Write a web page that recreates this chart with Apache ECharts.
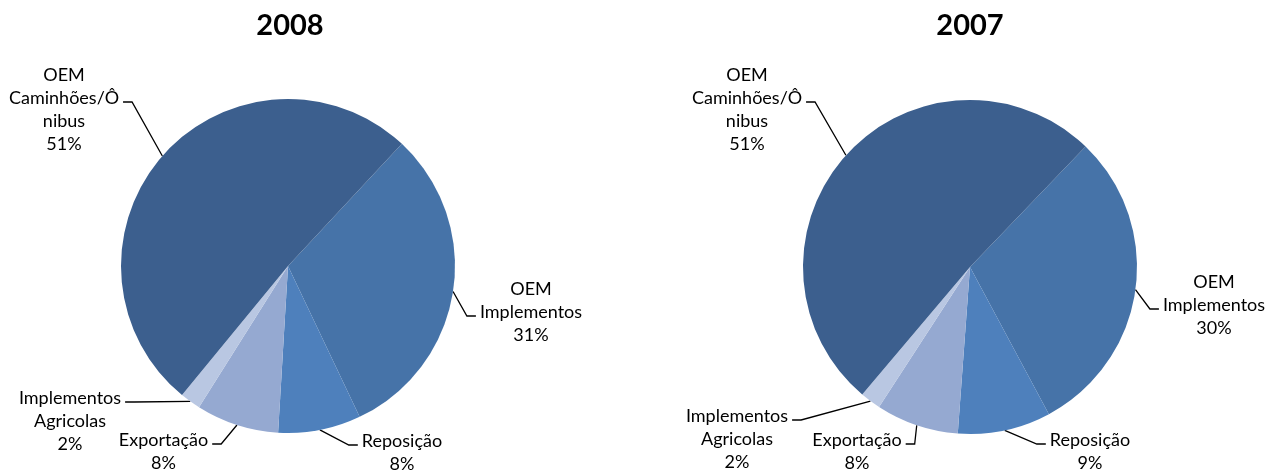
<!DOCTYPE html>
<html>
<head>
<meta charset="utf-8">
<script src="https://cdn.jsdelivr.net/npm/echarts@6/dist/echarts.min.js"></script>
<style>
html,body{margin:0;padding:0;background:#fff;}
#chart{width:1267px;height:470px;}
</style>
</head>
<body>
<div id="chart"></div>
<script>
// ---- data ----
const years = ['2008', '2007'];
const categories = ['OEM Implementos', 'Reposição', 'Exportação', 'Implementos Agricolas', 'OEM Caminhões/Ônibus'];
const labelTexts = ['OEM\nImplementos', 'Reposição', 'Exportação', 'Implementos\nAgricolas', 'OEM\nCaminhões/Ô\nnibus'];
const values2008 = [31, 8, 8, 2, 51];
const values2007 = [30, 9, 8, 2, 51];

// ---- styles ----
const colors = ['#4673A8', '#4E80BC', '#95A9D1', '#B9C7E2', '#3C5F8E'];
const FONT = 'Lato, "Open Sans", sans-serif';
const LH = 23;
// label placement: [centerX, firstLineCenterY, side of leader, line index of leader]
const labelPos = [
  [[531, 289, 'left', 1], [402, 441, 'left', 0], [163.5, 440, 'right', 0], [70, 398, 'right', 0], [64, 75, 'right', 1]],
  [[1214, 282, 'left', 1], [1090, 440, 'left', 0], [857, 440, 'right', 0], [737, 416, 'right', 0], [747, 75, 'right', 1]]
];
const pieCenters = [[288, 266], [970, 267]];
const startAngles = [47, 46.2];

const chart = echarts.init(document.getElementById('chart'), null, {renderer: 'canvas'});

function makeSeries(idx, values) {
  return {
    type: 'pie',
    center: pieCenters[idx],
    radius: 167,
    startAngle: startAngles[idx],
    clockwise: true,
    avoidLabelOverlap: false,
    animation: false,
    silent: true,
    itemStyle: { borderWidth: 0 },
    label: {
      show: true,
      position: 'outside',
      fontFamily: FONT,
      fontSize: 18,
      lineHeight: LH,
      color: '#000',
      align: 'center',
      formatter: function (p) {
        return labelTexts[p.dataIndex] + '\n' + Math.round(p.percent) + '%';
      }
    },
    labelLine: {
      show: true,
      length: 10,
      length2: 10,
      smooth: false,
      lineStyle: { color: '#000', width: 1.3 }
    },
    labelLayout: function (params) {
      const pos = labelPos[idx][params.dataIndex];
      const w = params.labelRect.width;
      const top = pos[1] - LH / 2;
      const leadY = pos[1] + LH * pos[3] + 4;
      let endX, elbowX;
      if (pos[2] === 'right') {
        endX = pos[0] + w / 2 + 4;
        elbowX = endX + 9;
      } else {
        endX = pos[0] - w / 2 - 4;
        elbowX = endX - 9;
      }
      const res = {
        x: pos[0],
        y: top,
        align: 'center',
        verticalAlign: 'top'
      };
      if (params.labelLinePoints) {
        const p0 = params.labelLinePoints[0];
        res.labelLinePoints = [[p0[0], p0[1]], [elbowX, leadY], [endX, leadY]];
      }
      return res;
    },
    data: values.map(function (v, i) {
      return { name: categories[i], value: v, itemStyle: { color: colors[i] } };
    })
  };
}

chart.setOption({
  animation: false,
  backgroundColor: '#fff',
  title: [
    { text: years[0], left: 290, top: 11, textAlign: 'center', padding: 0,
      textStyle: { fontFamily: FONT, fontSize: 29, fontWeight: 'bold', color: '#000' } },
    { text: years[1], left: 970, top: 11, textAlign: 'center', padding: 0,
      textStyle: { fontFamily: FONT, fontSize: 29, fontWeight: 'bold', color: '#000' } }
  ],
  series: [makeSeries(0, values2008), makeSeries(1, values2007)]
});
</script>
</body>
</html>
